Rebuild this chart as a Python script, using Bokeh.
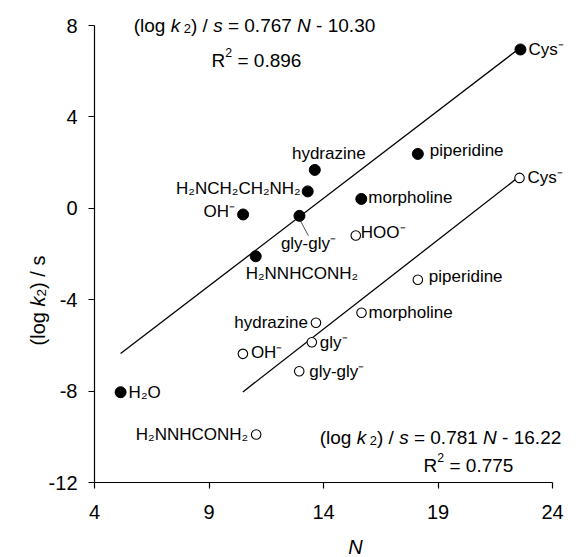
import math
from bokeh.plotting import figure
from bokeh.models import Range1d, Label, FixedTicker
from bokeh.embed import file_html
from bokeh.resources import INLINE

# ---------------- data ----------------
filled_names = ["Cys⁻", "piperidine", "hydrazine", "H₂NCH₂CH₂NH₂", "morpholine",
                "OH⁻", "gly-gly⁻", "H₂NNHCONH₂", "H₂O"]
filled_N = [22.60, 18.12, 13.62, 13.31, 15.65, 10.49, 12.95, 11.04, 5.14]
filled_y = [6.95, 2.38, 1.68, 0.74, 0.41, -0.27, -0.33, -2.10, -8.05]

open_names = ["Cys⁻", "piperidine", "HOO⁻", "morpholine", "hydrazine",
              "gly⁻", "OH⁻", "gly-gly⁻", "H₂NNHCONH₂"]
open_N = [22.56, 18.12, 15.41, 15.66, 13.67, 13.49, 10.48, 12.94, 11.06]
open_y = [1.33, -3.13, -1.19, -4.57, -5.01, -5.86, -6.37, -7.13, -9.90]

fit_filled = (0.767, -10.30, 0.896)   # slope, intercept, R2
fit_open = (0.781, -16.22, 0.775)

x_ticks = [4, 9, 14, 19, 24]
y_ticks = [-12, -8, -4, 0, 4, 8]

# ---------------- layout helpers ----------------
FONT = "Liberation Sans"
WIDTH, HEIGHT = 578, 557
AX_L, AX_R, AX_T, AX_B = 94, 552, 25, 482      # pixel extent of the axes box
X0, X1, Y0, Y1 = 4, 24, -12, 8
sx = (AX_R - AX_L) / (X1 - X0)
sy = (AX_B - AX_T) / (Y1 - Y0)


def X(px):
    return X0 + (px - AX_L) / sx


def Y(py):
    return Y1 - (py - AX_T) / sy


# the frame covers the whole canvas so that outer texts are not clipped;
# the axes are drawn at the data edges with fixed_location and bounds
p = figure(width=WIDTH, height=HEIGHT,
           x_range=Range1d(X(0), X(WIDTH)), y_range=Range1d(Y(HEIGHT), Y(0)),
           output_backend="svg", toolbar_location=None,
           min_border_left=0, min_border_right=0, min_border_top=0, min_border_bottom=0)
p.grid.visible = False
p.outline_line_color = None
p.background_fill_color = "white"
p.border_fill_color = "white"

xa, ya = p.xaxis[0], p.yaxis[0]
xa.fixed_location = Y0
ya.fixed_location = X0
xa.bounds = (X0, X1)
ya.bounds = (Y0, Y1)
for ax in (xa, ya):
    ax.major_tick_out = 6
    ax.major_tick_in = 0
    ax.minor_tick_out = 0
    ax.minor_tick_in = 0
    ax.axis_line_color = "black"
    ax.major_tick_line_color = "black"
    ax.axis_line_width = 1.2
    ax.major_tick_line_width = 1.2
    ax.major_label_text_font = FONT
    ax.major_label_text_font_size = "20px"
    ax.major_label_text_color = "black"
xa.ticker = FixedTicker(ticks=x_ticks)
ya.ticker = FixedTicker(ticks=y_ticks)
xa.major_label_overrides = {t: str(t) for t in x_ticks}
ya.major_label_overrides = {t: str(t) for t in y_ticks}
xa.major_label_standoff = 16
ya.major_label_standoff = 11

# regression lines
for (slope, icpt, _), Ns in ((fit_filled, filled_N), (fit_open, open_N)):
    xs = [min(Ns), max(Ns)]
    p.line(xs, [slope * v + icpt for v in xs], line_color="black", line_width=1.3)

# leader line for filled gly-gly
gi = filled_names.index("gly-gly⁻")
gx, gy = filled_N[gi], filled_y[gi]
p.segment(x0=[gx + 1 / sx], y0=[gy - 5 / sy], x1=[gx + 9 / sx], y1=[gy - 20 / sy],
          line_color="#444444", line_width=0.9)

p.scatter(filled_N, filled_y, marker="circle", size=11, fill_color="black", line_color="black")
p.scatter(open_N, open_y, marker="circle", size=9.5, fill_color="white", line_color="black",
          line_width=1.1)

# point labels: (align, dx, dy) in screen px, dy positive = up
filled_pos = {
    "Cys⁻": ("left", 8, 0), "piperidine": ("left", 12, 3), "hydrazine": ("center", 14, 16),
    "H₂NCH₂CH₂NH₂": ("right", -7, 3), "morpholine": ("left", 7, 1), "OH⁻": ("right", -8, 3),
    "gly-gly⁻": ("center", 9, -28), "H₂NNHCONH₂": ("left", -10, -17), "H₂O": ("left", 8, 0),
}
open_pos = {
    "Cys⁻": ("left", 8, 0), "piperidine": ("left", 11, 3), "HOO⁻": ("left", 5, 3),
    "morpholine": ("left", 7, 0), "hydrazine": ("right", -8, 0), "gly⁻": ("left", 8, 0),
    "OH⁻": ("left", 8, 1), "gly-gly⁻": ("left", 10, 0), "H₂NNHCONH₂": ("right", -8, 0),
}
for names, Ns, ys, pos in ((filled_names, filled_N, filled_y, filled_pos),
                           (open_names, open_N, open_y, open_pos)):
    for nm, xv, yv in zip(names, Ns, ys):
        al, dx, dy = pos[nm]
        p.add_layout(Label(x=xv, y=yv, x_offset=dx, y_offset=dy, text=nm, text_align=al,
                           text_baseline="middle", text_font=FONT, text_font_size="17px",
                           text_color="black"))

# rich text (mixed italic / sub / sup)
AW = {' ': 278, '(': 333, ')': 333, '/': 278, '=': 584, '-': 333, '.': 278, 'l': 222,
      'o': 556, 'g': 556, 'k': 500, 's': 500, 'N': 722, 'R': 722}


def tw(s, size):
    return sum(AW.get(c, 556) for c in s) * size / 1000.0


def rich(pieces, x, y, size, angle=0.0):
    widths = [tw(t, size * sc) for t, st, sc, dy in pieces]
    cur = -sum(widths) / 2.0
    for (t, st, sc, dy), w in zip(pieces, widths):
        lead = tw(t[:len(t) - len(t.lstrip())], size * sc)
        along = cur + lead
        shift = dy * size
        if angle == 0:
            xo, yo = along, shift
        else:
            xo, yo = -shift, along
        p.add_layout(Label(x=x, y=y, x_offset=xo, y_offset=yo, text=t.strip(), angle=angle,
                           text_align="left", text_baseline="alphabetic", text_font=FONT,
                           text_font_size=f"{size * sc:.1f}px", text_font_style=st,
                           text_color="black"))
        cur += w


def eq_pieces(slope, icpt):
    sign = "-" if icpt < 0 else "+"
    return [("(log ", "normal", 1, 0), ("k", "italic", 1, 0), (" 2", "normal", 0.68, -0.18),
            (") / ", "normal", 1, 0), ("s", "italic", 1, 0),
            (f" = {slope:.3f} ", "normal", 1, 0), ("N", "italic", 1, 0),
            (f" {sign} {abs(icpt):.2f}", "normal", 1, 0)]


def r2_pieces(r2):
    return [("R", "normal", 1, 0), ("2", "normal", 0.65, 0.42), (f" = {r2:.3f}", "normal", 1, 0)]


rich(eq_pieces(fit_filled[0], fit_filled[1]), X(254), Y(25), 19)
rich(r2_pieces(fit_filled[2]), X(256), Y(60), 19)
rich(eq_pieces(fit_open[0], fit_open[1]), X(440), Y(437), 19)
rich(r2_pieces(fit_open[2]), X(468), Y(465), 19)

# axis titles
ylab = [("(log ", "normal", 1, 0), ("k", "italic", 1, 0), ("2", "normal", 0.68, -0.18),
        (") / ", "normal", 1, 0), ("s", "normal", 1, 0)]
rich(ylab, X(37), Y(300), 20, angle=math.pi / 2)
p.add_layout(Label(x=X(355), y=Y(546), text="N", text_align="center", text_baseline="middle",
                   text_font=FONT, text_font_size="20px", text_font_style="italic",
                   text_color="black"))

open("out.html", "w").write(file_html(p, INLINE))
